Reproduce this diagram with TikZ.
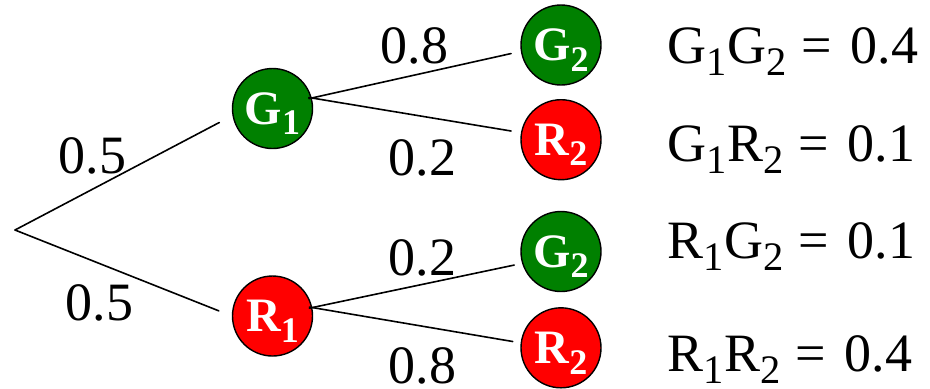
\documentclass[tikz,border=0pt]{standalone}
\usepackage{fontspec}
\setmainfont{Liberation Serif}
\usepackage{graphicx}
\newcommand{\lo}[1]{\raisebox{-.22em}[0pt][0pt]{\scalebox{.75}{#1}}}
\newcommand{\dn}[1]{\raisebox{-.22em}{\scalebox{.75}{#1}}}
\newcommand{\eqs}{\ \hspace{1pt}=\ \hspace{2.5pt}}
\definecolor{gball}{RGB}{0,128,0}
\definecolor{rball}{RGB}{255,0,0}
\tikzset{
	ball/.style={circle,draw=black,line width=0.7pt,minimum size=40pt,inner sep=0pt,text=white,font=\fontsize{24}{24}\selectfont\bfseries},
	gb/.style={ball,fill=gball},
	rb/.style={ball,fill=rball},
	prob/.style={anchor=base,inner sep=0pt,font=\fontsize{27}{27}\selectfont},
	res/.style={anchor=base west,inner sep=0pt,font=\fontsize{27}{27}\selectfont}
}
\begin{document}
\begin{tikzpicture}[x=0.5pt,y=-0.5pt,line width=0.8pt,line cap=round]
	\useasboundingbox (0,0) rectangle (930,388);
	\coordinate (O) at (15,230);
	% first draw
	\node[gb] (G1) at (272.5,108.5) {G\lo{1}};
	\node[rb] (R1) at (272.5,316) {R\lo{1}};
	% second draw
	\node[gb] (G2a) at (561,45) {G\lo{2}};
	\node[rb] (R2a) at (561,139.7) {R\lo{2}};
	\node[gb] (G2b) at (561,251.5) {G\lo{2}};
	\node[rb] (R2b) at (561,347.8) {R\lo{2}};
	\draw[shorten >=7.4pt] (O) -- (G1.190);
	\draw[shorten >=7pt] (O) -- (R1.west);
	\draw[shorten <=-1.5pt,shorten >=5pt] (G1.15) -- (G2a.189);
	\draw[shorten <=-1.5pt,shorten >=5pt] (G1.15) -- (R2a.170);
	\draw[shorten <=-1.5pt,shorten >=4pt] (R1.12) -- (G2b.197);
	\draw[shorten <=-1.5pt,shorten >=4pt] (R1.12) -- (R2b.173);
	% probabilities
	\node[prob] (pG1) at (92.5,173.3) {0.5};
	\node[prob] (pR1) at (99.6,320) {0.5};
	\node[prob] (pGG) at (414.7,63.3) {0.8};
	\node[prob] (pGR) at (422.5,175.7) {0.2};
	\node[prob] (pRG) at (422.5,275) {0.2};
	\node[prob] (pRR) at (422.5,383) {0.8};
	% results
	\node[res] (rGG) at (667,63.3) {G\dn{1}G\dn{2}\eqs0.4};
	\node[res] (rGR) at (667,161.7) {G\dn{1}R\dn{2}\eqs0.1};
	\node[res] (rRG) at (667,258.3) {R\dn{1}G\dn{2}\eqs0.1};
	\node[res] (rRR) at (667,371.5) {R\dn{1}R\dn{2}\eqs0.4};
\end{tikzpicture}
\end{document}
